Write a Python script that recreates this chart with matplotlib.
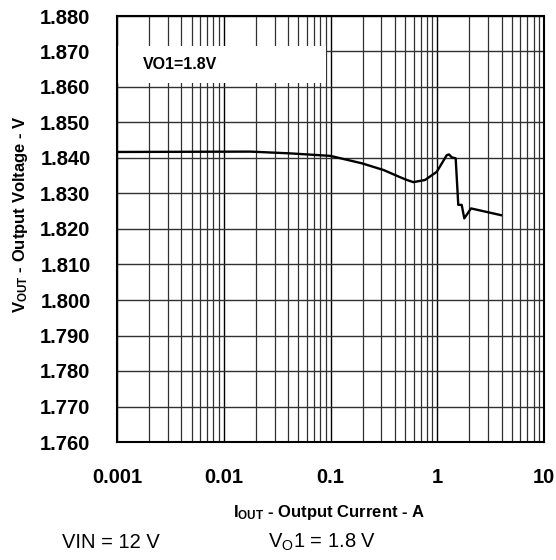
import matplotlib
matplotlib.use("Agg")
import matplotlib.pyplot as plt
from matplotlib.patches import Rectangle
from matplotlib.ticker import FixedLocator, LogLocator, NullFormatter

plt.rcParams['font.family'] = ['Liberation Sans', 'DejaVu Sans']
plt.rcParams['mathtext.fontset'] = 'custom'
plt.rcParams['mathtext.rm'] = 'Liberation Sans'
plt.rcParams['mathtext.bf'] = 'Liberation Sans:bold'
plt.rcParams['mathtext.it'] = 'Liberation Sans:italic'

# output current (A) and output voltage (V)
current = [0.001, 0.0178, 0.042, 0.0995, 0.197, 0.315, 0.448, 0.521, 0.597,
           0.767, 0.989, 1.227, 1.289, 1.366, 1.488, 1.574, 1.694, 1.792,
           1.927, 2.07, 3.95]
voltage = [1.8417, 1.8418, 1.8413, 1.8406, 1.8385, 1.8366, 1.8346, 1.8338,
           1.8332, 1.8338, 1.8361, 1.8408, 1.8410, 1.8402, 1.8399, 1.8268,
           1.8268, 1.8230, 1.8244, 1.8258, 1.8239]

y_ticks = [1.760, 1.770, 1.780, 1.790, 1.800, 1.810, 1.820, 1.830, 1.840,
           1.850, 1.860, 1.870, 1.880]
x_ticks = [0.001, 0.01, 0.1, 1, 10]
x_tick_labels = ['0.001', '0.01', '0.1', '1', '10']

fig = plt.figure(figsize=(5.56, 5.60), dpi=100)
ax = fig.add_axes([117 / 556, 118 / 560, 427 / 556, 426 / 560])

ax.plot(current, voltage, color='black', lw=1.7, zorder=3)

ax.set_xscale('log')
ax.set_xlim(0.001, 10)
ax.set_ylim(1.760, 1.880)
ax.set_xticks(x_ticks)
ax.set_xticklabels(x_tick_labels)
ax.xaxis.set_minor_locator(LogLocator(base=10, subs=range(2, 10)))
ax.xaxis.set_minor_formatter(NullFormatter())
ax.yaxis.set_major_locator(FixedLocator(y_ticks))
ax.set_yticklabels(['%.3f' % v for v in y_ticks])

ax.set_axisbelow(True)
ax.grid(True, which='major', axis='x', color='black', lw=1.0)
ax.grid(True, which='minor', axis='x', color='#303030', lw=0.9)
ax.grid(True, which='major', axis='y', color='#303030', lw=1.0)

ax.tick_params(axis='y', which='both', direction='in', length=0,
               labelsize=14.5, pad=19)
ax.tick_params(axis='x', which='both', direction='in', length=0,
               labelsize=14.5, pad=19)
for lab in ax.get_xticklabels() + ax.get_yticklabels():
    lab.set_fontweight('bold')
for sp in ax.spines.values():
    sp.set_linewidth(1.5)
    sp.set_zorder(4)

# white label box in the upper-left corner
ax.add_patch(Rectangle((0.0, 0.843), 0.49, 0.087, transform=ax.transAxes,
                       facecolor='white', edgecolor='none', zorder=1))
ax.text(0.061, 0.885, 'VO1=1.8V', transform=ax.transAxes, fontsize=11.5,
        fontweight='bold', va='center', ha='left', zorder=5)

fig.text(329 / 556, 1 - 513 / 560,
         r'$\mathbf{I_{OUT}}$ - Output Current - A',
         ha='center', va='center', fontsize=12, fontweight='bold')
fig.text(21 / 556, 1 - 214 / 560,
         r'$\mathbf{V_{OUT}}$ - Output Voltage - V', rotation=90,
         ha='center', va='center', fontsize=12, fontweight='bold')
fig.text(111 / 556, 1 - 542 / 560, 'VIN = 12 V', ha='center', va='center',
         fontsize=14.5)
fig.text(322 / 556, 1 - 542 / 560, r'V$_\mathrm{O}$1 = 1.8 V', ha='center',
         va='center', fontsize=14.5)

fig.savefig('out.png', dpi=100)
